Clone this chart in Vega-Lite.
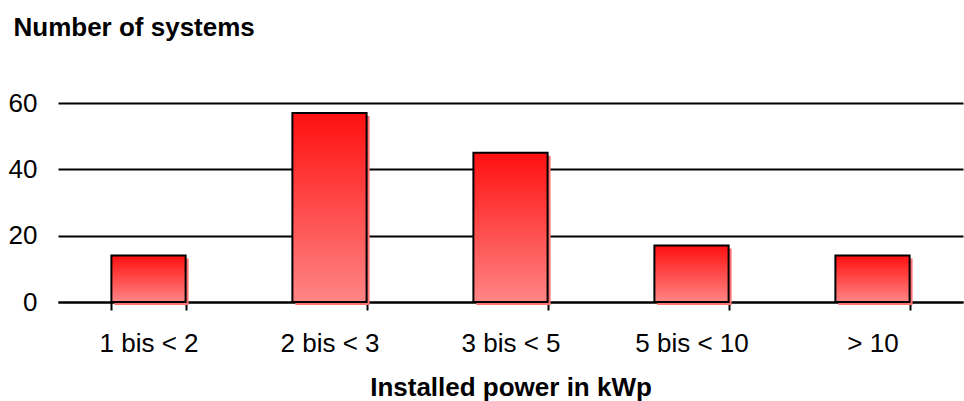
{
  "$schema": "https://vega.github.io/schema/vega-lite/v6.json",
  "width": 905,
  "height": 199,
  "autosize": "none",
  "padding": {"left": 58, "top": 103, "right": 1, "bottom": 99},
  "background": "white",
  "config": {
    "view": {"stroke": null},
    "font": "Liberation Sans"
  },
  "data": {
    "values": [
      {"range": "1 bis < 2", "systems": 14},
      {"range": "2 bis < 3", "systems": 57},
      {"range": "3 bis < 5", "systems": 45},
      {"range": "5 bis < 10", "systems": 17},
      {"range": "> 10", "systems": 14}
    ]
  },
  "encoding": {
    "x": {
      "field": "range",
      "type": "nominal",
      "sort": null,
      "scale": {"paddingInner": 0.59, "paddingOuter": 0.295},
      "axis": {
        "title": "Installed power in kWp",
        "titleFont": "Liberation Sans",
        "titleFontSize": 26,
        "titleFontWeight": "bold",
        "titleColor": "black",
        "titlePadding": 18,
        "labelAngle": 0,
        "labelFont": "Liberation Sans",
        "labelFontSize": 26,
        "labelColor": "black",
        "labelPadding": 20,
        "tickBand": "extent",
        "tickColor": "black",
        "tickWidth": 2,
        "tickSize": 8,
        "domainColor": "black",
        "domainWidth": 2,
        "grid": false
      }
    },
    "y": {
      "field": "systems",
      "type": "quantitative",
      "scale": {"domain": [0, 60]},
      "axis": {
        "values": [0, 20, 40, 60],
        "title": "Number of systems",
        "titleAngle": 0,
        "titleAlign": "left",
        "titleBaseline": "alphabetic",
        "titleX": -45,
        "titleY": -68,
        "titleFont": "Liberation Sans",
        "titleFontSize": 26,
        "titleFontWeight": "bold",
        "titleColor": "black",
        "labelFont": "Liberation Sans",
        "labelFontSize": 26,
        "labelColor": "black",
        "labelPadding": 21,
        "domain": false,
        "ticks": false,
        "grid": true,
        "gridColor": "black",
        "gridWidth": 2,
        "gridOpacity": 1
      }
    }
  },
  "layer": [
    {
      "mark": {"type": "bar", "fill": "#ff7373", "xOffset": 3, "yOffset": 3, "stroke": null}
    },
    {
      "mark": {
        "type": "bar",
        "stroke": "black",
        "strokeWidth": 2,
        "fill": {
          "gradient": "linear",
          "x1": 0, "y1": 0, "x2": 0, "y2": 1,
          "stops": [
            {"offset": 0, "color": "#ff1010"},
            {"offset": 1, "color": "#ff8585"}
          ]
        }
      }
    }
  ]
}
